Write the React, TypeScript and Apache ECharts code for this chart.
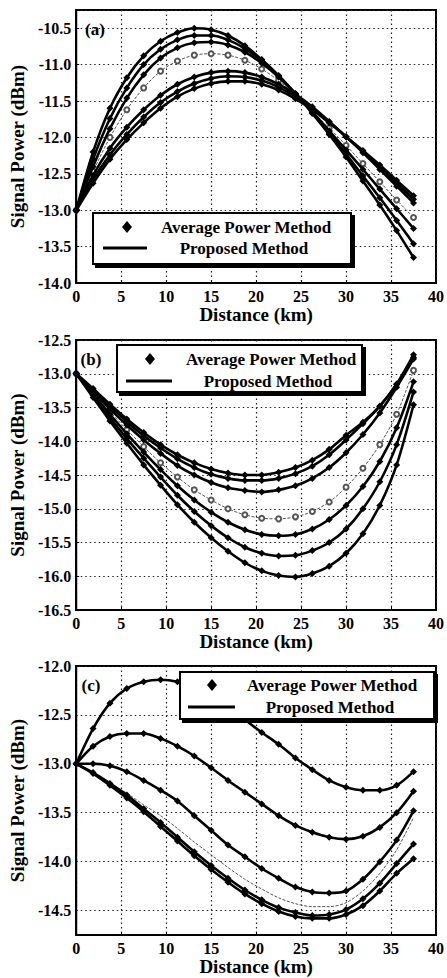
import React, { useEffect, useRef } from "react";
import * as echarts from "echarts";

// Distance samples (km)
const X_KM = [0, 1.875, 3.75, 5.625, 7.5, 9.375, 11.25, 13.125, 15, 16.875, 18.75, 20.625, 22.5, 24.375, 26.25, 28.125, 30, 31.875, 33.75, 35.625, 37.5];

// Panel (a)
const A_CURVES = [
  [-13, -12.2, -11.6, -11.18, -10.88, -10.68, -10.56, -10.5, -10.52, -10.6, -10.74, -10.93, -11.15, -11.4, -11.67, -11.96, -12.27, -12.6, -12.93, -13.28, -13.65],
  [-13, -12.3, -11.74, -11.32, -11.0, -10.79, -10.66, -10.6, -10.6, -10.66, -10.78, -10.95, -11.16, -11.4, -11.66, -11.94, -12.23, -12.53, -12.83, -13.14, -13.46],
  [-13, -12.4, -11.88, -11.46, -11.14, -10.91, -10.77, -10.7, -10.69, -10.73, -10.83, -10.98, -11.17, -11.4, -11.65, -11.91, -12.17, -12.44, -12.71, -12.98, -13.25],
  [-13, -12.52, -12.15, -11.86, -11.62, -11.42, -11.27, -11.17, -11.11, -11.09, -11.11, -11.17, -11.27, -11.41, -11.58, -11.78, -11.99, -12.21, -12.44, -12.67, -12.9],
  [-13, -12.58, -12.24, -11.96, -11.72, -11.52, -11.37, -11.26, -11.19, -11.16, -11.17, -11.22, -11.31, -11.44, -11.6, -11.79, -11.99, -12.2, -12.41, -12.63, -12.85],
  [-13, -12.63, -12.3, -12.03, -11.8, -11.6, -11.44, -11.33, -11.26, -11.23, -11.23, -11.27, -11.35, -11.47, -11.62, -11.8, -11.99, -12.18, -12.38, -12.59, -12.8],
];
const A_REF = [-13, -12.47, -12.0, -11.62, -11.32, -11.09, -10.95, -10.87, -10.85, -10.87, -10.94, -11.06, -11.22, -11.42, -11.64, -11.87, -12.11, -12.36, -12.61, -12.86, -13.1];

// Panel (b)
const B_CURVES = [
  [-13, -13.22, -13.45, -13.67, -13.87, -14.05, -14.2, -14.32, -14.41, -14.47, -14.5, -14.5, -14.46, -14.39, -14.28, -14.12, -13.91, -13.72, -13.48, -13.15, -12.72],
  [-13, -13.24, -13.48, -13.71, -13.92, -14.1, -14.26, -14.39, -14.49, -14.55, -14.58, -14.58, -14.55, -14.48, -14.37, -14.2, -13.98, -13.74, -13.48, -13.16, -12.76],
  [-13, -13.26, -13.52, -13.76, -13.98, -14.18, -14.36, -14.5, -14.61, -14.69, -14.73, -14.75, -14.72, -14.66, -14.55, -14.39, -14.17, -13.9, -13.58, -13.2, -12.78],
  [-13, -13.3, -13.6, -13.89, -14.16, -14.42, -14.66, -14.87, -15.05, -15.2, -15.31, -15.38, -15.4, -15.38, -15.3, -15.16, -14.95, -14.67, -14.3, -13.8, -13.12],
  [-13, -13.32, -13.65, -13.96, -14.25, -14.53, -14.8, -15.04, -15.25, -15.43, -15.57, -15.66, -15.7, -15.69, -15.62, -15.5, -15.3, -15.0, -14.6, -14.05, -13.27],
  [-13, -13.35, -13.7, -14.03, -14.35, -14.65, -14.94, -15.2, -15.43, -15.63, -15.8, -15.92, -15.99, -16.01, -15.96, -15.85, -15.66, -15.37, -14.95, -14.35, -13.46],
];
const B_REF = [-13, -13.28, -13.56, -13.83, -14.08, -14.32, -14.53, -14.72, -14.87, -15.0, -15.09, -15.14, -15.15, -15.12, -15.04, -14.9, -14.68, -14.4, -14.05, -13.6, -12.95];

// Panel (c)
const C_CURVES = [
  [-13, -12.64, -12.38, -12.23, -12.16, -12.14, -12.16, -12.22, -12.3, -12.42, -12.55, -12.68, -12.8, -12.94, -13.06, -13.17, -13.24, -13.27, -13.27, -13.22, -13.08],
  [-13, -12.82, -12.72, -12.69, -12.69, -12.74, -12.82, -12.92, -13.04, -13.17, -13.29, -13.41, -13.53, -13.63, -13.7, -13.75, -13.77, -13.74, -13.65, -13.5, -13.28],
  [-13, -13.0, -13.02, -13.08, -13.17, -13.27, -13.38, -13.53, -13.68, -13.83, -13.95, -14.07, -14.17, -14.26, -14.31, -14.32, -14.3, -14.18, -14.0, -13.78, -13.48],
  [-13, -13.09, -13.2, -13.32, -13.46, -13.6, -13.75, -13.9, -14.04, -14.17, -14.29, -14.39, -14.47, -14.52, -14.55, -14.54, -14.49, -14.38, -14.22, -14.02, -13.82],
  [-13, -13.1, -13.22, -13.35, -13.49, -13.64, -13.79, -13.94, -14.08, -14.21, -14.33, -14.43, -14.51, -14.56, -14.58, -14.58, -14.54, -14.45, -14.3, -14.12, -13.97],
];
const C_REF = [-13, -13.1, -13.2, -13.3, -13.42, -13.53, -13.66, -13.8, -13.93, -14.06, -14.18, -14.28, -14.37, -14.43, -14.46, -14.46, -14.42, -14.3, -14.12, -13.88, -13.55];

const PANEL_LABELS = ["(a)", "(b)", "(c)"];
const LEGEND_TEXTS = ["Average Power Method", "Proposed Method"];
const X_TITLE = "Distance (km)";
const Y_TITLE = "Signal Power (dBm)";

const FONT = "'Liberation Serif', 'Times New Roman', serif";

const pairs = (ys: number[]) => ys.map((y, i) => [X_KM[i], y]);

export default function App() {
  const ref = useRef<HTMLDivElement>(null);
  useEffect(() => {
    const chart = echarts.init(ref.current!, null, { renderer: "svg" });

    const grids = [
      { left: 74, top: 10, width: 364, height: 273 },
      { left: 74, top: 340, width: 364, height: 270 },
      { left: 74, top: 666, width: 364, height: 269 },
    ].map((g) => ({ ...g, show: true, borderColor: "#000", borderWidth: 2, backgroundColor: "#fff" }));

    const dotted = { color: "#222", type: [1.5, 3], width: 1.2 };
    const labelStyle = { fontFamily: FONT, fontWeight: "bold", fontSize: 16, color: "#000" };
    const halfFmt = (v: number) => (Math.abs(v * 2 - Math.round(v * 2)) > 1e-6 ? "" : v.toFixed(1));
    const xNameGaps = [18, 22, 14];

    const xAxes = [0, 1, 2].map((i) => ({
      type: "value",
      gridIndex: i,
      min: 0,
      max: 40,
      interval: 5,
      axisLine: { show: true, lineStyle: { color: "#000", width: 2 } },
      axisTick: { show: true, inside: true, length: 3, lineStyle: { color: "#000" } },
      axisLabel: { ...labelStyle, margin: 5 },
      splitLine: { show: true, lineStyle: dotted },
      name: X_TITLE,
      nameLocation: "middle",
      nameGap: xNameGaps[i],
      nameTextStyle: { fontFamily: FONT, fontWeight: "bold", fontSize: 19, color: "#000" },
    }));

    const yCommon = {
      type: "value",
      axisLine: { show: true, lineStyle: { color: "#000", width: 2 } },
      axisLabel: { ...labelStyle, margin: 5, formatter: halfFmt },
      name: Y_TITLE,
      nameLocation: "middle",
      nameGap: 47,
      nameRotate: 90,
      nameTextStyle: { fontFamily: FONT, fontWeight: "bold", fontSize: 19, color: "#000" },
    };
    const yAxes = [
      { ...yCommon, gridIndex: 0, min: -14, max: -10.25, interval: 0.5, axisTick: { show: true, inside: true, length: 3 }, splitLine: { show: true, lineStyle: dotted } },
      { ...yCommon, gridIndex: 1, min: -16.5, max: -12.5, interval: 0.5, axisTick: { show: true, inside: true, length: 3 }, splitLine: { show: true, lineStyle: dotted } },
      { ...yCommon, gridIndex: 2, min: -14.75, max: -12, interval: 0.25, axisTick: { show: false }, splitLine: { show: true, lineStyle: { ...dotted, color: ["rgba(0,0,0,0)", "#222"] } } },
    ];

    const series: any[] = [];
    const addMain = (ys: number[], gi: number) =>
      series.push({
        type: "line",
        xAxisIndex: gi,
        yAxisIndex: gi,
        data: pairs(ys),
        smooth: 0.3,
        symbol: "diamond",
        symbolSize: 7,
        lineStyle: { color: "#000", width: 2.6 },
        itemStyle: { color: "#000" },
        z: 3,
      });
    const addRef = (ys: number[], gi: number, withSymbol: boolean) =>
      series.push({
        type: "line",
        xAxisIndex: gi,
        yAxisIndex: gi,
        data: pairs(ys),
        smooth: 0.3,
        symbol: withSymbol ? "emptyCircle" : "none",
        symbolSize: 5,
        lineStyle: { color: "#555", width: 1, type: [3, 1.5] },
        itemStyle: { color: "#555" },
        z: 2,
      });
    A_CURVES.forEach((c) => addMain(c, 0));
    addRef(A_REF, 0, true);
    B_CURVES.forEach((c) => addMain(c, 1));
    addRef(B_REF, 1, true);
    C_CURVES.forEach((c) => addMain(c, 2));
    addRef(C_REF, 2, false);

    const legendBox = (
      x: number, y: number, w: number, h: number,
      dx: number, dy: number, avgCx: number,
      lx1: number, lx2: number, ly: number, propCx: number
    ) => [
      {
        type: "rect",
        z: 100,
        shape: { x, y, width: w, height: h },
        style: { fill: "#fff", stroke: "#000", lineWidth: 2, shadowColor: "#000", shadowOffsetX: 3, shadowOffsetY: 3, shadowBlur: 0 },
      },
      {
        type: "polygon",
        z: 101,
        shape: { points: [[dx, dy - 6], [dx + 5, dy], [dx, dy + 6], [dx - 5, dy]] },
        style: { fill: "#000" },
      },
      {
        type: "text",
        z: 101,
        x: avgCx,
        y: dy,
        style: { text: LEGEND_TEXTS[0], font: `bold 17px ${FONT}`, fill: "#000", align: "center", verticalAlign: "middle" },
      },
      {
        type: "line",
        z: 101,
        shape: { x1: lx1, y1: ly, x2: lx2, y2: ly },
        style: { stroke: "#000", lineWidth: 3 },
      },
      {
        type: "text",
        z: 101,
        x: propCx,
        y: ly,
        style: { text: LEGEND_TEXTS[1], font: `bold 17px ${FONT}`, fill: "#000", align: "center", verticalAlign: "middle" },
      },
    ];
    const panelLabel = (i: number, cx: number, cy: number) => ({
      type: "text",
      z: 101,
      x: cx,
      y: cy,
      style: { text: PANEL_LABELS[i], font: `bold 17px ${FONT}`, fill: "#000", align: "center", verticalAlign: "middle" },
    });

    const graphic = [
      ...legendBox(93, 213, 258, 51, 127, 227, 246, 103, 147, 248, 244),
      ...legendBox(117, 345, 245, 47, 150, 359, 271, 126, 172, 381, 268),
      ...legendBox(180, 672, 254, 47, 212, 685, 332, 188, 235, 707, 330),
      panelLabel(0, 95, 29),
      panelLabel(1, 91, 359),
      panelLabel(2, 91, 685),
    ];

    chart.setOption({
      animation: false,
      backgroundColor: "#fff",
      grid: grids,
      xAxis: xAxes,
      yAxis: yAxes,
      series,
      graphic,
    });
    return () => chart.dispose();
  }, []);
  return <div ref={ref} style={{ position: "absolute", left: 0, top: 0, width: 447, height: 978 }} />;
}
